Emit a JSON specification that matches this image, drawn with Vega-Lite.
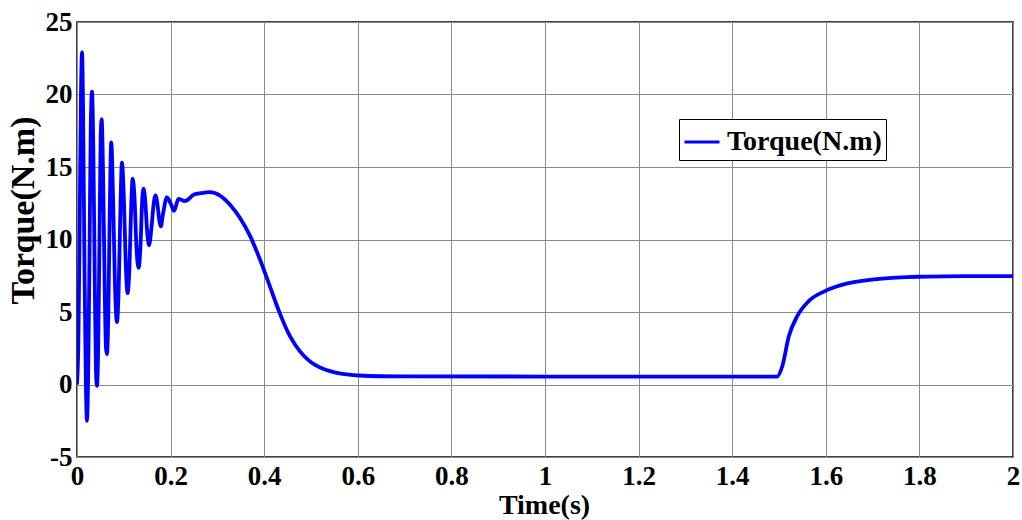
{
  "$schema": "https://vega.github.io/schema/vega-lite/v6.json",
  "autosize": "none",
  "width": 936,
  "height": 435,
  "padding": {"left": 77, "top": 22, "right": 9, "bottom": 63},
  "background": "white",
  "config": {
    "font": "Liberation Serif",
    "view": {"stroke": "black", "strokeWidth": 1.5},
    "axis": {
      "labelFont": "Liberation Serif",
      "labelFontWeight": "bold",
      "labelFontSize": 27,
      "labelColor": "black",
      "titleFont": "Liberation Serif",
      "titleFontWeight": "bold",
      "titleColor": "black",
      "domain": false,
      "grid": true,
      "gridColor": "#8a8a8a",
      "gridWidth": 1,
      "ticks": false
    }
  },
  "data": {
    "values": [
      {"t": 0, "torque": 0},
      {"t": 0.003, "torque": 3},
      {"t": 0.006, "torque": 12},
      {"t": 0.0085, "torque": 20},
      {"t": 0.0107, "torque": 22.9},
      {"t": 0.013, "torque": 19},
      {"t": 0.016, "torque": 8},
      {"t": 0.019, "torque": 0},
      {"t": 0.0213, "torque": -2.5},
      {"t": 0.024, "torque": 1},
      {"t": 0.027, "torque": 10},
      {"t": 0.0295, "torque": 18},
      {"t": 0.032, "torque": 20.2},
      {"t": 0.035, "torque": 16},
      {"t": 0.038, "torque": 7},
      {"t": 0.0405, "torque": 1},
      {"t": 0.0426, "torque": -0.1},
      {"t": 0.045, "torque": 2},
      {"t": 0.048, "torque": 10},
      {"t": 0.0505, "torque": 17},
      {"t": 0.0526, "torque": 18.3},
      {"t": 0.056, "torque": 14},
      {"t": 0.0595, "torque": 6},
      {"t": 0.062, "torque": 2.5},
      {"t": 0.064, "torque": 2.1},
      {"t": 0.067, "torque": 5},
      {"t": 0.07, "torque": 12},
      {"t": 0.0732, "torque": 16.7},
      {"t": 0.077, "torque": 13},
      {"t": 0.081, "torque": 7},
      {"t": 0.0853, "torque": 4.3},
      {"t": 0.089, "torque": 6.5},
      {"t": 0.093, "torque": 12.5},
      {"t": 0.096, "torque": 15.3},
      {"t": 0.1, "torque": 13},
      {"t": 0.104, "torque": 8.5},
      {"t": 0.108, "torque": 6.3},
      {"t": 0.112, "torque": 8},
      {"t": 0.116, "torque": 12.5},
      {"t": 0.119, "torque": 14.2},
      {"t": 0.123, "torque": 12.8},
      {"t": 0.127, "torque": 9.5},
      {"t": 0.1315, "torque": 8.05},
      {"t": 0.136, "torque": 9.8},
      {"t": 0.139, "torque": 12.5},
      {"t": 0.142, "torque": 13.5},
      {"t": 0.146, "torque": 12.6},
      {"t": 0.15, "torque": 10.5},
      {"t": 0.154, "torque": 9.6},
      {"t": 0.159, "torque": 10.8},
      {"t": 0.164, "torque": 12.5},
      {"t": 0.1677, "torque": 13.05},
      {"t": 0.172, "torque": 12.4},
      {"t": 0.176, "torque": 11.3},
      {"t": 0.179, "torque": 10.9},
      {"t": 0.184, "torque": 11.8},
      {"t": 0.192, "torque": 12.9},
      {"t": 0.2, "torque": 12.5},
      {"t": 0.2075, "torque": 11.97},
      {"t": 0.2168, "torque": 12.8},
      {"t": 0.231, "torque": 12.66},
      {"t": 0.25, "torque": 13.1},
      {"t": 0.265, "torque": 13.2},
      {"t": 0.284, "torque": 13.27},
      {"t": 0.3056, "torque": 13.03},
      {"t": 0.327, "torque": 12.4},
      {"t": 0.348, "torque": 11.5},
      {"t": 0.37, "torque": 10.23},
      {"t": 0.391, "torque": 8.62},
      {"t": 0.412, "torque": 6.78},
      {"t": 0.433, "torque": 4.94},
      {"t": 0.455, "torque": 3.33},
      {"t": 0.476, "torque": 2.3},
      {"t": 0.497, "torque": 1.61},
      {"t": 0.526, "torque": 1.08},
      {"t": 0.561, "torque": 0.76},
      {"t": 0.604, "torque": 0.62},
      {"t": 0.65, "torque": 0.57},
      {"t": 0.7, "torque": 0.56},
      {"t": 1.0, "torque": 0.55},
      {"t": 1.496, "torque": 0.55},
      {"t": 1.507, "torque": 1.26},
      {"t": 1.521, "torque": 3.33},
      {"t": 1.539, "torque": 4.71},
      {"t": 1.5635, "torque": 5.75},
      {"t": 1.598, "torque": 6.44},
      {"t": 1.642, "torque": 6.94},
      {"t": 1.699, "torque": 7.24},
      {"t": 1.75, "torque": 7.37},
      {"t": 1.798, "torque": 7.43},
      {"t": 1.9, "torque": 7.47},
      {"t": 2.0, "torque": 7.48}
    ]
  },
  "mark": {"type": "line", "interpolate": "monotone", "strokeWidth": 3.8, "clip": true},
  "encoding": {
    "x": {
      "field": "t",
      "type": "quantitative",
      "scale": {"domain": [0, 2], "nice": false},
      "axis": {
        "title": "Time(s)",
        "titleFontSize": 28,
        "titleX": 467,
        "titleY": 56,
        "titleBaseline": "alphabetic",
        "values": [0, 0.2, 0.4, 0.6, 0.8, 1, 1.2, 1.4, 1.6, 1.8, 2],
        "labelExpr": "datum.value + ''",
        "labelPadding": 6,
        "labelFlush": false
      }
    },
    "y": {
      "field": "torque",
      "type": "quantitative",
      "scale": {"domain": [-5, 25], "nice": false, "zero": false},
      "axis": {
        "title": "Torque(N.m)",
        "titleFontSize": 34,
        "titleX": -54,
        "titleY": 188,
        "titleAngle": -90,
        "titleAlign": "center",
        "titleBaseline": "middle",
        "values": [-5, 0, 5, 10, 15, 20, 25],
        "labelExpr": "datum.value + ''",
        "labelPadding": 5
      }
    },
    "color": {
      "datum": "Torque(N.m)",
      "type": "nominal",
      "scale": {"range": ["#0000ff"]},
      "legend": {
        "title": null,
        "orient": "none",
        "legendX": 602,
        "legendY": 97,
        "symbolType": "stroke",
        "symbolSize": 1225,
        "symbolStrokeWidth": 3,
        "labelFont": "Liberation Serif",
        "labelFontWeight": "bold",
        "labelFontSize": 28,
        "labelColor": "black",
        "labelOffset": 6,
        "strokeColor": "black",
        "fillColor": "white",
        "padding": 4
      }
    }
  }
}
